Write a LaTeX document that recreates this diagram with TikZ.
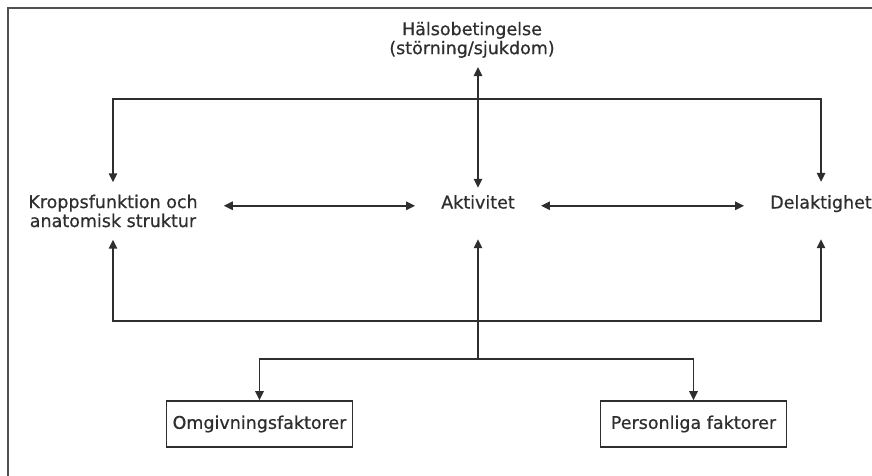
\documentclass[tikz,border=0pt]{standalone}
\usepackage{fontspec}
\setmainfont{DejaVu Sans}[FakeBold=0.6]
\usepackage{xcolor}
\usetikzlibrary{arrows.meta}
\definecolor{ink}{HTML}{2E2E2E}
\definecolor{rim}{HTML}{505050}
\tikzset{lbl/.style={anchor=base,inner xsep=26pt,inner ysep=0pt,text height=26.5pt,text depth=30.5pt},
  fac/.style={draw=ink,line width=1.6pt,minimum width=186pt,minimum height=46pt,inner xsep=5pt},
  lnk/.style={draw=ink,line width=1.5pt}}

\begin{document}
\begin{tikzpicture}[x=1pt,y=-1pt,>={Triangle[length=9pt,width=8.5pt]},
    every node/.style={font=\fontsize{17.5}{19}\selectfont,text=ink}]
    \useasboundingbox (0,0) rectangle (872,475);
    \clip (0,0) rectangle (872,475);
    \draw [rim,line width=2.6pt] (8,8) rectangle (900,500);

    \node[anchor=south,align=center,inner ysep=9pt] (hals) at (472,67) {Hälsobetingelse\\(störning/sjukdom)};
    \node[align=center,inner xsep=26pt,inner ysep=0pt,minimum height=57pt] (kropp) at (113,211) {Kroppsfunktion och\\anatomisk struktur};
    \node[lbl,text height=20.5pt] (akt) at (478,208.5) {Aktivitet};
    \node[lbl] (del) at (821,208.5) {Delaktighet};

    \node[fac] (omg) at (259.5,424) {Omgivningsfaktorer};
    \node[fac] (pers) at (693.5,424) {Personliga faktorer};

    \coordinate (top) at (478,99);
    \coordinate (bot) at (478,321);
    \coordinate (hub) at (478,359);

    \draw [lnk,<->] (akt.north) -- (akt.north |- hals.south);
    \draw [lnk,<->] (kropp.north) |- (top) -| (del.north);
    \draw [lnk,<->] (kropp.east |- akt.mid) -- (akt.mid west);
    \draw [lnk,<->] (akt.mid east) -- (del.mid west);
    \draw [lnk,<->] (kropp.south) |- (bot) -| (del.south);
    \draw [lnk,->] (hub) -- (akt.south);
    \draw [lnk,<->] (omg.north) |- (hub) -| (pers.north);
\end{tikzpicture}
\end{document}
